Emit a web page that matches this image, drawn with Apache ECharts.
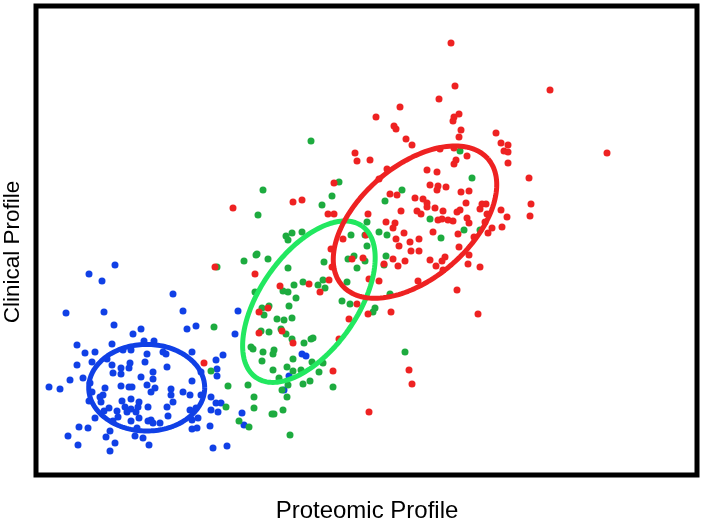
<!DOCTYPE html>
<html>
<head>
<meta charset="utf-8">
<script src="https://cdn.jsdelivr.net/npm/echarts@6/dist/echarts.min.js"></script>
<style>
html,body{margin:0;padding:0;background:#fff;}
#chart{width:702px;height:524px;}
</style>
</head>
<body>
<div id="chart"></div>
<script>
// Axis titles
var xTitle = 'Proteomic Profile';
var yTitle = 'Clinical Profile';

// Blue cluster points [proteomic, clinical]
var bluePoints = [
[79,210],[53,201],[66,194],[137,181],[30,162],[68,163],[147,164],[78,150],[105,146],[97,141],
[151,146],[160,149],[41,130],[76,131],[108,134],[118,134],[49,122],[59,123],[87,125],[95,125],
[127,123],[156,123],[111,121],[130,121],[71,116],[56,113],[41,110],[76,110],[94,112],[109,113],
[131,108],[85,107],[93,107],[77,102],[85,101],[117,103],[105,98],[47,97],[34,95],[117,96],
[156,94],[165,103],[13,88],[24,86],[54,92],[85,89],[93,88],[96,88],[111,90],[119,87],
[135,86],[69,87],[56,83],[67,80],[115,83],[147,83],[154,80],[64,78],[135,80],[165,80],
[53,74],[65,73],[86,74],[95,76],[103,73],[137,73],[89,68],[73,67],[95,66],[102,68],
[112,68],[131,68],[160,67],[68,64],[81,64],[91,63],[100,63],[154,65],[59,57],[82,58],
[103,57],[132,59],[162,57],[115,55],[77,54],[95,54],[112,54],[117,52],[124,52],[156,55],
[43,48],[52,47],[74,44],[101,47],[156,46],[161,47],[32,39],[70,38],[99,39],[107,37],
[79,32],[42,30],[113,30],[74,24],
[202,164],[199,141],[187,120],[180,115],[181,106],[181,99],[266,121],[270,119],[253,99],[248,85],
[175,78],[180,72],[185,72],[175,65],[182,63],[206,62],[208,50],[174,49],[177,27],[191,29]
];

// Green cluster points
var greenPoints = [
[275,334],[227,285],[222,260],[250,239],[256,242],[266,243],[252,235],[220,220],[221,221],[208,214],
[232,216],[181,208],[252,207],[258,190],[267,193],[247,184],[252,183],[219,183],
[260,177],[226,167],[233,169],[228,160],[253,169],[241,156],[248,155],[256,157],[178,148],[225,144],
[233,143],[245,146],[250,141],[256,136],[268,132],[275,136],[277,137],[215,128],[217,126],[227,123],
[238,125],[237,121],[226,114],[257,116],[276,113],[237,105],[251,108],[257,104],[265,105],[175,104],
[243,97],[252,90],[267,91],[274,94],[192,89],[212,90],[246,85],[251,78],[218,78],[190,68],
[218,67],[247,65],[236,61],[238,61],[203,54],[213,48],[254,40],
[303,293],[296,279],[286,270],[366,285],[349,274],[331,253],[343,243],[351,240],[315,240],[329,240],
[331,229],[312,216],[318,219],[329,214],[321,207],[288,213],[350,219],[348,210],[311,193],[287,195],
[282,190],[289,187],[354,181],
[306,174],[314,171],[339,167],[337,163],[369,123],[287,112],[283,103],[297,88],
[424,324],[436,297],[394,256],[428,245],[405,237],[444,245]
];

// Red cluster points
var redPoints = [
[197,267],[257,273],[266,275],[179,208],[219,201],[244,189],[273,191],
[223,163],[232,167],[223,142],[246,144],[257,132],[168,112],
[364,368],[340,358],[358,349],[360,346],[370,336],[376,330],[319,322],[321,314],[334,315],[351,306],
[343,296],[298,292],[354,281],[361,280],[379,277],[387,276],[292,261],[298,261],[332,261],[365,264],
[381,264],[385,261],[350,253],[359,252],[357,247],[368,242],[307,236],[330,240],[360,236],[374,233],
[383,236],[295,226],[363,229],[375,224],[383,224],[316,216],[327,217],[357,216],[369,214],[348,211],
[362,209],[296,208],[293,195],[333,196],[343,194],[382,194],[284,183],
[321,171],[332,161],[355,163],[313,156],[303,136],[297,104],[373,105],[376,91],[333,63],
[415,432],[419,389],[403,376],[514,385],[423,361],[418,358],[417,354],[425,345],[423,338],[460,342],
[465,332],[472,330],[468,324],[472,323],[571,322],[404,326],[418,327],
[431,319],[420,315],[418,311],[472,312],[391,305],[401,303],[493,297],[394,290],[402,289],[401,285],
[410,288],[425,283],[433,284],[391,272],[391,268],[399,267],[407,264],[421,263],[424,265],[430,272],
[446,271],[450,271],[444,266],[495,271],[465,265],[451,261],[494,259],[471,258],[402,255],[406,256],
[412,255],[417,254],[431,257],[433,252],[449,253],[456,247],[466,248],[452,242],[397,243],[422,241],
[438,238],[423,228],[433,220],[409,218],[406,214],[394,215],[400,209],[432,211],[444,208],[407,205],
[421,185],[442,161]
];

// Ellipses: [centerX, centerY, semiMajor, semiMinor, angleDeg]
var blueEllipse = [110.7, 87.3, 58, 43.3, 0];
var greenEllipse = [272.9, 173.3, 92.5, 48.5, 55];
var redEllipse = [379, 252.9, 96.6, 56.1, 40.9];

var blueColor = '#1040e6';
var greenDot = '#1dab3f';
var greenLine = '#22e860';
var redColor = '#ee2222';

function ellipsePath(e) {
  var pts = [];
  var th = e[4] * Math.PI / 180;
  var n = 160;
  for (var i = 0; i <= n; i++) {
    var t = 2 * Math.PI * i / n;
    var ux = e[2] * Math.cos(t), uy = e[3] * Math.sin(t);
    pts.push([e[0] + ux * Math.cos(th) - uy * Math.sin(th), e[1] + ux * Math.sin(th) + uy * Math.cos(th)]);
  }
  return pts;
}

var chart = echarts.init(document.getElementById('chart'), null, {renderer: 'canvas'});
function dots(name, data, color) {
  return {name: name, type: 'scatter', data: data, symbol: 'circle', symbolSize: 7,
    itemStyle: {color: color, opacity: 1}, z: 2, silent: true, animation: false};
}
function ring(name, e, color) {
  return {name: name, type: 'line', data: ellipsePath(e), showSymbol: false, symbol: 'none',
    lineStyle: {color: color, width: 5}, z: 3, silent: true, animation: false, smooth: false};
}
var axisCommon = {type: 'value', axisLine: {show: false}, axisTick: {show: false},
  axisLabel: {show: false}, splitLine: {show: false}};
chart.setOption({
  backgroundColor: '#ffffff',
  animation: false,
  grid: {left: 36, top: 6, width: 661, height: 469, show: true, borderColor: '#000', borderWidth: 5, backgroundColor: 'transparent'},
  xAxis: Object.assign({min: 0, max: 661}, axisCommon),
  yAxis: Object.assign({min: 0, max: 469}, axisCommon),
  graphic: [
    {type: 'text', x: 367, y: 511, style: {text: xTitle, font: '24px "Liberation Sans", Arial, sans-serif', fill: '#000', align: 'center', verticalAlign: 'middle'}},
    {type: 'text', x: 13, y: 252, rotation: Math.PI / 2, style: {text: yTitle, font: '22.5px "Liberation Sans", Arial, sans-serif', fill: '#000', align: 'center', verticalAlign: 'middle'}}
  ],
  series: [
    dots('blue', bluePoints, blueColor),
    dots('green', greenPoints, greenDot),
    dots('red', redPoints, redColor),
    ring('blueEllipse', blueEllipse, blueColor),
    ring('greenEllipse', greenEllipse, greenLine),
    ring('redEllipse', redEllipse, redColor)
  ]
});
</script>
</body>
</html>
